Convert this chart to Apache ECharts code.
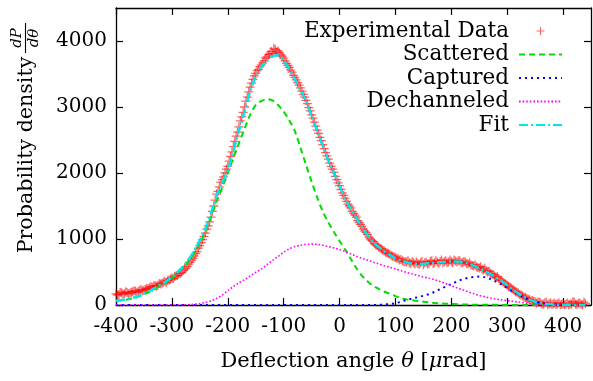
<!DOCTYPE html>
<html><head><meta charset="utf-8">
<script src="https://cdn.jsdelivr.net/npm/echarts@6/dist/echarts.min.js"></script>
<style>html,body{margin:0;padding:0;background:#fff}#c{width:593px;height:381px}</style>
</head><body><div id="c"></div>
<script>
// Experimental data (deflection angle in µrad, probability density)
const expAngle = [
-400,-397.5,-395,-392.5,-390,-387.5,-385,-382.5,-380,-377.5,-375,-372.5,-370,-367.5,-365,-362.5,-360,-357.5,-355,-352.5,
-350,-347.5,-345,-342.5,-340,-337.5,-335,-332.5,-330,-327.5,-325,-322.5,-320,-317.5,-315,-312.5,-310,-307.5,-305,-302.5,
-300,-297.5,-295,-292.5,-290,-287.5,-285,-282.5,-280,-277.5,-275,-272.5,-270,-267.5,-265,-262.5,-260,-257.5,-255,-252.5,
-250,-247.5,-245,-242.5,-240,-237.5,-235,-232.5,-230,-227.5,-225,-222.5,-220,-217.5,-215,-212.5,-210,-207.5,-205,-202.5,
-200,-197.5,-195,-192.5,-190,-187.5,-185,-182.5,-180,-177.5,-175,-172.5,-170,-167.5,-165,-162.5,-160,-157.5,-155,-152.5,
-150,-147.5,-145,-142.5,-140,-137.5,-135,-132.5,-130,-127.5,-125,-122.5,-120,-117.5,-115,-112.5,-110,-107.5,-105,-102.5,
-100,-97.5,-95,-92.5,-90,-87.5,-85,-82.5,-80,-77.5,-75,-72.5,-70,-67.5,-65,-62.5,-60,-57.5,-55,-52.5,
-50,-47.5,-45,-42.5,-40,-37.5,-35,-32.5,-30,-27.5,-25,-22.5,-20,-17.5,-15,-12.5,-10,-7.5,-5,-2.5,
0,2.5,5,7.5,10,12.5,15,17.5,20,22.5,25,27.5,30,32.5,35,37.5,40,42.5,45,47.5,
50,52.5,55,57.5,60,62.5,65,67.5,70,72.5,75,77.5,80,82.5,85,87.5,90,92.5,95,97.5,
100,102.5,105,107.5,110,112.5,115,117.5,120,122.5,125,127.5,130,132.5,135,137.5,140,142.5,145,147.5,
150,152.5,155,157.5,160,162.5,165,167.5,170,172.5,175,177.5,180,182.5,185,187.5,190,192.5,195,197.5,
200,202.5,205,207.5,210,212.5,215,217.5,220,222.5,225,227.5,230,232.5,235,237.5,240,242.5,245,247.5,
250,252.5,255,257.5,260,262.5,265,267.5,270,272.5,275,277.5,280,282.5,285,287.5,290,292.5,295,297.5,
300,302.5,305,307.5,310,312.5,315,317.5,320,322.5,325,327.5,330,332.5,335,337.5,340,342.5,345,347.5,
350,352.5,355,357.5,360,362.5,365,367.5,370,372.5,375,377.5,380,382.5,385,387.5,390,392.5,395,397.5,
400,402.5,405,407.5,410,412.5,415,417.5,420,422.5,425,427.5,430,432.5,435,437.5,440];
const expValue = [
170,150,160,195,185,165,175,200,190,170,180,195,200,215,210,190,205,225,230,215,
225,240,250,245,262,280,270,290,295,285,300,325,320,330,345,360,340,370,380,395,
410,400,430,445,450,470,480,495,520,545,560,585,620,650,680,705,740,780,810,860,
900,945,990,1040,1090,1150,1200,1260,1330,1420,1500,1590,1680,1720,1790,1860,1900,1940,2000,2060,
2100,2180,2250,2320,2400,2480,2560,2620,2700,2790,2850,2920,3000,3090,3150,3230,3300,3360,3420,3470,
3510,3550,3570,3610,3640,3670,3700,3740,3760,3790,3800,3840,3810,3890,3870,3830,3850,3820,3790,3770,
3740,3700,3660,3630,3600,3560,3530,3480,3450,3410,3370,3330,3290,3240,3190,3150,3100,3050,2990,2940,
2880,2830,2770,2710,2650,2600,2540,2490,2430,2370,2310,2260,2210,2150,2100,2060,2010,1950,1900,1850,
1810,1750,1700,1660,1620,1570,1530,1500,1470,1420,1390,1360,1330,1280,1250,1220,1190,1150,1120,1100,
1070,1030,1000,980,960,930,910,900,880,860,850,830,820,800,790,780,770,750,740,730,
720,710,700,680,690,670,660,655,650,670,640,630,660,640,620,650,630,615,640,660,
610,640,650,620,630,660,670,630,640,670,650,630,660,680,640,655,670,640,650,680,
660,640,680,665,650,670,670,645,640,660,650,630,620,640,610,600,590,610,580,570,
560,580,540,530,560,520,500,510,480,470,460,440,420,430,400,380,370,350,330,320,
300,280,270,255,240,220,200,195,180,160,150,135,120,115,100,90,80,60,70,55,
50,30,40,45,30,10,15,35,40,5,20,30,10,15,25,8,15,35,5,12,
20,5,10,30,5,15,15,50,40,10,10,25,30,8,5,45,20];

// Model components (sampled every 10 µrad)
const compAngle = [
-400,-390,-380,-370,-360,-350,-340,-330,-320,-310,
-300,-290,-280,-270,-260,-250,-240,-230,-220,-210,
-200,-190,-180,-170,-160,-150,-140,-130,-120,-110,
-100,-90,-80,-70,-60,-50,-40,-30,-20,-10,
0,10,20,30,40,50,60,70,80,90,
100,110,120,130,140,150,160,170,180,190,
200,210,220,230,240,250,260,270,280,290,
300,310,320,330,340,350,360,370,380,390,
400,410,420,430,440];
const scattered = [
60,70,84,102,128,162,198,245,295,345,
410,480,565,665,790,940,1120,1330,1570,1780,
2000,2225,2450,2670,2880,3030,3090,3118,3100,3030,
2930,2800,2635,2385,2125,1870,1630,1420,1250,1105,
970,840,700,560,445,360,290,245,205,170,
135,105,85,72,60,50,40,32,25,20,
16,12,9,7,5,4,3,2,2,1,
1,0,0,0,0,0,0,0,0,0,
0,0,0,0,0];
const captured = [
0,0,0,0,0,0,0,0,0,0,
0,0,0,0,0,0,0,0,0,0,
0,0,0,0,0,0,0,0,0,0,
0,0,0,0,0,0,0,0,0,0,
0,0,0,0,0,0,0,3,8,15,
25,50,78,98,118,140,165,198,240,280,
318,355,389,412,426,430,422,393,353,310,
260,205,162,114,80,52,32,18,10,5,
3,1,0,0,0];
const dechanneled = [
0,0,0,0,0,0,0,0,0,0,
0,1,3,5,12,22,38,60,100,150,
215,280,335,385,440,495,545,610,675,735,
800,850,885,905,918,922,918,905,885,865,
840,810,775,740,708,680,650,622,596,570,
545,520,495,470,448,425,405,385,355,325,
290,260,230,200,170,145,125,105,90,78,
68,55,45,33,22,14,8,5,3,1,
0,0,0,0,0];
const fit = [
65,75,88,108,135,172,210,262,310,360,
425,495,585,690,820,980,1160,1390,1660,1850,
2040,2330,2640,2930,3230,3460,3600,3700,3770,3785,
3700,3570,3420,3260,3090,2860,2635,2410,2190,2000,
1805,1605,1460,1320,1180,1060,950,880,815,760,
707,675,648,630,622,625,635,640,648,655,
658,658,652,630,595,555,515,470,420,365,
300,235,175,125,80,50,30,18,10,5,
3,2,1,1,0];

const xTicks = [-400,-300,-200,-100,0,100,200,300,400];
const yTicks = [0,1000,2000,3000,4000];
const seriesNames = ['Experimental Data','Scattered','Captured','Dechanneled','Fit'];

const FONT = '"DejaVu Serif", serif';
const PLUS = 'path://M4.3,0H5.7V4.3H10V5.7H5.7V10H4.3V5.7H0V4.3H4.3Z';
const pairs = (xs, ys) => xs.map((x, i) => [x, ys[i]]);

const chart = echarts.init(document.getElementById('c'), null, {renderer: 'canvas'});
const tickStyle = {show: true, inside: true, length: 7, lineStyle: {color: '#000', width: 1.2}};
const axisLine = {show: true, onZero: false, lineStyle: {color: '#000', width: 1.3}};
const labelStyle = {color: '#000', fontFamily: FONT, fontSize: 20, formatter: v => String(v)};
const noSymbol = {opacity: 0};

chart.setOption({
  animation: false,
  backgroundColor: '#fff',
  grid: {left: 116, right: 2, top: 8, bottom: 76, containLabel: false},
  xAxis: [
    {type: 'value', position: 'bottom', min: -400, max: 450, interval: 100,
     axisLine, axisTick: Object.assign({customValues: xTicks}, tickStyle),
     axisLabel: Object.assign({customValues: xTicks, margin: 12}, labelStyle),
     splitLine: {show: false},
     name: 'Deflection angle {it|θ} [{it|μ}rad]', nameLocation: 'middle', nameGap: 46,
     nameTextStyle: {color: '#000', fontFamily: FONT, fontSize: 21,
       rich: {it: {fontStyle: 'italic', fontFamily: FONT, fontSize: 21, color: '#000'}}}},
    {type: 'value', position: 'top', min: -400, max: 450, interval: 100,
     axisLine, axisTick: Object.assign({customValues: xTicks}, tickStyle),
     axisLabel: {show: false}, splitLine: {show: false}}
  ],
  yAxis: [
    {type: 'value', position: 'left', min: 0, max: 4500, interval: 1000,
     axisLine, axisTick: Object.assign({customValues: yTicks}, tickStyle),
     axisLabel: Object.assign({customValues: yTicks, margin: 9}, labelStyle),
     splitLine: {show: false}},
    {type: 'value', position: 'right', min: 0, max: 4500, interval: 1000,
     axisLine, axisTick: Object.assign({customValues: yTicks}, tickStyle),
     axisLabel: {show: false}, splitLine: {show: false}}
  ],
  legend: {
    orient: 'vertical', align: 'right', right: 25, top: 15,
    itemWidth: 43, itemHeight: 8, itemGap: 1.5,
    textStyle: {color: '#000', fontFamily: FONT, fontSize: 21.5, lineHeight: 21.5, padding: [0, 5, 0, 0]},
    data: [
      {name: seriesNames[0], icon: PLUS},
      {name: seriesNames[1], itemStyle: noSymbol},
      {name: seriesNames[2], itemStyle: noSymbol},
      {name: seriesNames[3], itemStyle: noSymbol},
      {name: seriesNames[4], itemStyle: noSymbol}
    ]
  },
  graphic: [
    {type: 'text', x: 27, y: 155, rotation: Math.PI / 2,
     style: {text: 'Probability density', font: '20.6px ' + FONT, align: 'center', verticalAlign: 'middle', fill: '#000'}},
    {type: 'group', x: 25.5, y: 38, rotation: Math.PI / 2, children: [
      {type: 'text', x: 0, y: -1, style: {text: 'dP', font: 'italic 15px ' + FONT, align: 'center', verticalAlign: 'bottom', fill: '#000'}},
      {type: 'line', shape: {x1: -15, y1: 0, x2: 15, y2: 0}, style: {stroke: '#000', lineWidth: 1.1}},
      {type: 'text', x: 0, y: 1, style: {text: 'dθ', font: 'italic 15px ' + FONT, align: 'center', verticalAlign: 'top', fill: '#000'}}
    ]}
  ],
  series: [
    {name: seriesNames[0], type: 'scatter', data: pairs(expAngle, expValue),
     symbol: PLUS, symbolSize: 9, itemStyle: {color: 'rgba(255,0,0,0.75)'}, z: 2},
    {name: seriesNames[1], type: 'line', data: pairs(compAngle, scattered), smooth: 0.3,
     showSymbol: false, symbol: 'none', lineStyle: {color: '#00dd00', width: 2, type: [6, 4]}, itemStyle: {color: '#00dd00'}, z: 3},
    {name: seriesNames[2], type: 'line', data: pairs(compAngle, captured), smooth: 0.3,
     showSymbol: false, symbol: 'none', lineStyle: {color: '#0000ff', width: 2, type: [2, 4]}, itemStyle: {color: '#0000ff'}, z: 3},
    {name: seriesNames[3], type: 'line', data: pairs(compAngle, dechanneled), smooth: 0.3,
     showSymbol: false, symbol: 'none', lineStyle: {color: '#ff00ff', width: 1.6, type: [1.6, 2]}, itemStyle: {color: '#ff00ff'}, z: 3},
    {name: seriesNames[4], type: 'line', data: pairs(compAngle, fit), smooth: 0.3,
     showSymbol: false, symbol: 'none', lineStyle: {color: '#00e5ee', width: 2.5, type: [9, 3, 2, 3]}, itemStyle: {color: '#00e5ee'}, z: 4}
  ]
});
</script></body></html>
